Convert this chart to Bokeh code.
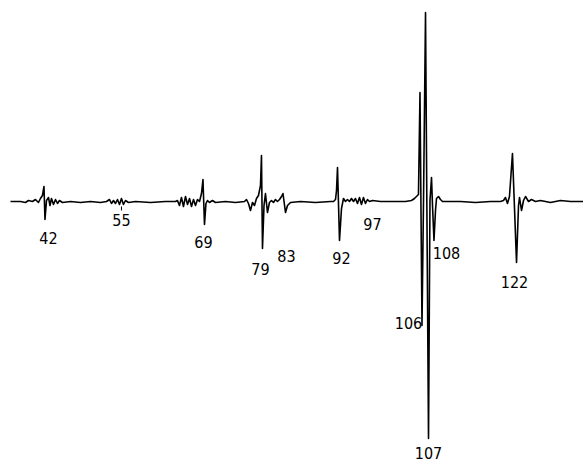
from bokeh.plotting import figure
from bokeh.models import Range1d, ColumnDataSource
from bokeh.core.properties import value
from bokeh.embed import file_html
from bokeh.resources import INLINE

# trace: mass (m/z) and signal (arbitrary units, baseline = 0)
mass = [36.30, 38.00, 38.85, 39.36, 40.04, 40.55, 41.06, 41.40, 41.74, 42.00, 42.17, 42.43,
        42.77, 43.02, 43.28, 43.62, 43.96, 44.30, 44.64, 45.15, 46.51, 48.21, 49.91, 51.62,
        52.64, 53.15, 53.49, 53.83, 54.17, 54.51, 54.85, 55.19, 55.53, 55.87, 56.38, 57.57,
        60.13, 62.68, 64.38,
        64.72, 65.06, 65.40, 65.74, 66.09, 66.43, 66.77, 67.11, 67.45, 67.79, 68.13, 68.47,
        68.81, 69.06, 69.32, 69.57, 69.83, 70.17, 70.68, 71.19, 72.89, 74.60, 76.13,
        76.47, 76.81, 77.15, 77.49, 77.83, 78.17, 78.51, 78.85, 79.02, 79.19, 79.45, 79.70,
        80.04, 80.38, 80.72, 81.06, 81.40, 81.74, 82.09, 82.43, 82.68, 83.11, 83.45, 83.96,
        85.66, 88.21, 90.77,
        91.28, 91.62, 91.79, 91.96, 92.30, 92.64, 92.98, 93.32, 93.66, 94.00, 94.34, 94.68,
        95.02, 95.36, 95.70, 96.04, 96.38, 96.72, 97.06, 97.40, 97.91, 99.28, 101.83, 103.53,
        104.55,
        105.06, 105.40, 105.74, 106.00, 106.34, 106.60, 106.94, 107.45, 107.70, 107.96, 108.13,
        108.38, 108.64, 108.81, 109.15, 109.49, 109.83, 111.19, 112.89, 115.45, 118.00, 119.70,
        120.21, 120.55, 120.89, 121.23, 121.74, 122.43, 122.77, 122.94, 123.28, 123.62, 123.96,
        124.47, 124.98, 125.66, 126.51, 128.21, 129.91, 131.62, 133.83]
signal = [1, 1, 0, 2, 1, 3, 0, 4, 7, 16, -17, 2,
          5, -3, 4, -2, 3, -1, 2, 0, 1, 0, 1, 0,
          1, 3, -1, 2, -1, 3, -2, 4, -2, 2, 0, 1,
          0, 1, 1,
          2, -3, 5, -4, 6, -2, 4, -4, 3, -3, 3, 1,
          9, 23, -22, -1, 2, 0, 2, 0, 1, 0, 1,
          3, -1, -8, 0, -3, 4, 7, 17, 47, -46, -3, 9,
          -10, 0, 2, 0, 3, 1, 3, 6, 9, -10, -3, 0,
          1, 0, 1,
          1, 3, 12, 35, -38, -6, 4, 1, 3, 1, 4, 1,
          4, -1, 5, -2, 5, -1, 3, 1, 2, 1, 1, 1,
          2,
          4, 6, 8, 110, -123, 2, 190, -236, 2, 25, -3,
          -38, -8, 4, 6, 3, 1, 1, 1, 0, 1, 1,
          2, 5, -1, 6, 49, -60, -3, 5, -8, 2, 6,
          1, 3, 1, 2, 0, 2, 1, 1]

# peak labels
label_text = ["42", "55", "69", "79", "83", "92", "97", "106", "107", "108", "122"]
label_mass = [42.77, 55.19, 69.15, 78.85, 83.28, 92.64, 97.91, 104.04, 107.45, 110.51, 122.09]
label_level = [-35, -17, -39, -66, -53, -55, -21, -120, -250, -50, -79]

# small marker tick under the m/z 55 group
tick_mass = [55.19]
tick_top = [-4]
tick_bottom = [-8]

p = figure(width=583, height=461, output_backend="svg", toolbar_location=None,
           x_range=Range1d(34.60, 133.83), y_range=Range1d(-259, 202),
           min_border=0, min_border_left=0, min_border_right=0,
           min_border_top=0, min_border_bottom=0)
p.axis.visible = False
p.grid.visible = False
p.outline_line_color = None
p.background_fill_color = "white"
p.border_fill_color = "white"

p.line(mass, signal, line_color="black", line_width=1.6, line_join="round")
p.segment(x0=tick_mass, y0=tick_top, x1=tick_mass, y1=tick_bottom,
          line_color="black", line_width=1)

src = ColumnDataSource(dict(x=label_mass, y=label_level, t=label_text))
p.text(x="x", y="y", text="t", source=src, text_align="center", text_baseline="middle",
       text_font=value("DejaVu Sans Condensed, Roboto, sans-serif"), text_font_size="16px",
       text_color="black")

open("out.html", "w").write(file_html(p, INLINE))
